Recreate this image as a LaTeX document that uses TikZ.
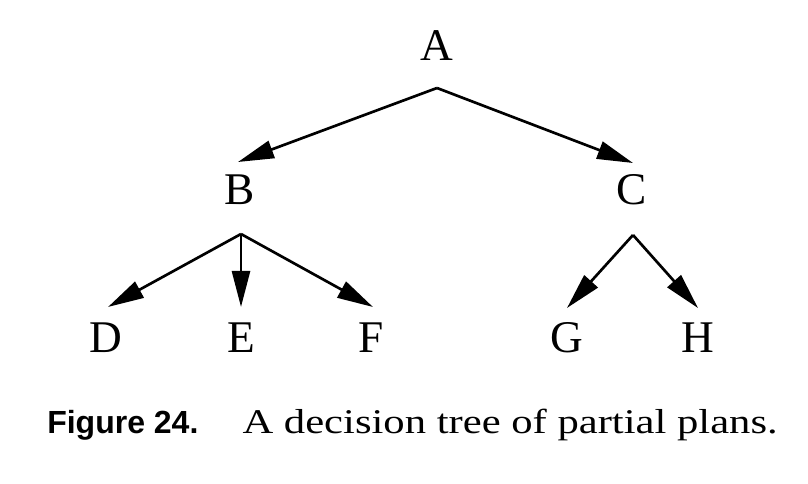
\documentclass[tikz,border=0pt]{standalone}
\usepackage{fontspec}
\setmainfont{Liberation Serif}
\setsansfont{Liberation Sans}
\usetikzlibrary{arrows.meta}
\begin{document}
\begin{tikzpicture}[x=0.75pt,y=-0.75pt,
  lbl/.style={anchor=base,inner sep=0pt,font=\fontsize{34}{34}\selectfont},
  edge/.style={line width=2pt,-{Triangle[length=27pt,width=13.5pt]}}]
\useasboundingbox (0,0) rectangle (808,484);
\node[lbl] (A) at (437,61) {A};
\node[lbl] (B) at (240,205) {B};
\node[lbl] (C) at (632,205) {C};
\node[lbl] (D) at (106,353) {D};
\node[lbl] (E) at (241,353) {E};
\node[lbl] (F) at (371,353) {F};
\node[lbl] (G) at (567,353) {G};
\node[lbl] (H) at (698,353) {H};
\coordinate (As) at (437,88);
\coordinate (Bn) at (238,162);
\coordinate (Cn) at (633,163);
\coordinate (Bs) at (241,234);
\coordinate (Cs) at (633,235);
\coordinate (Dn) at (108,307);
\coordinate (En) at (241,307);
\coordinate (Fn) at (373,307);
\coordinate (Gn) at (567,308);
\coordinate (Hn) at (698,308);
\draw[edge] (As) -- (Bn);
\draw[edge] (As) -- (Cn);
\draw[edge] (Bs) -- (Dn);
\draw[edge] (Bs) -- (En);
\draw[edge] (Bs) -- (Fn);
\draw[edge] (Cs) -- (Gn);
\draw[edge] (Cs) -- (Hn);
\node[anchor=base east,inner sep=0pt] (cap) at (778,434) {\scalebox{1.23}[1]{\fontsize{26}{28}\selectfont A decision tree of partial plans.}};
\node[anchor=base west,inner sep=0pt] (fig) at (47,434) {\sffamily\bfseries\fontsize{24}{26}\selectfont Figure 24.};
\end{tikzpicture}
\end{document}
